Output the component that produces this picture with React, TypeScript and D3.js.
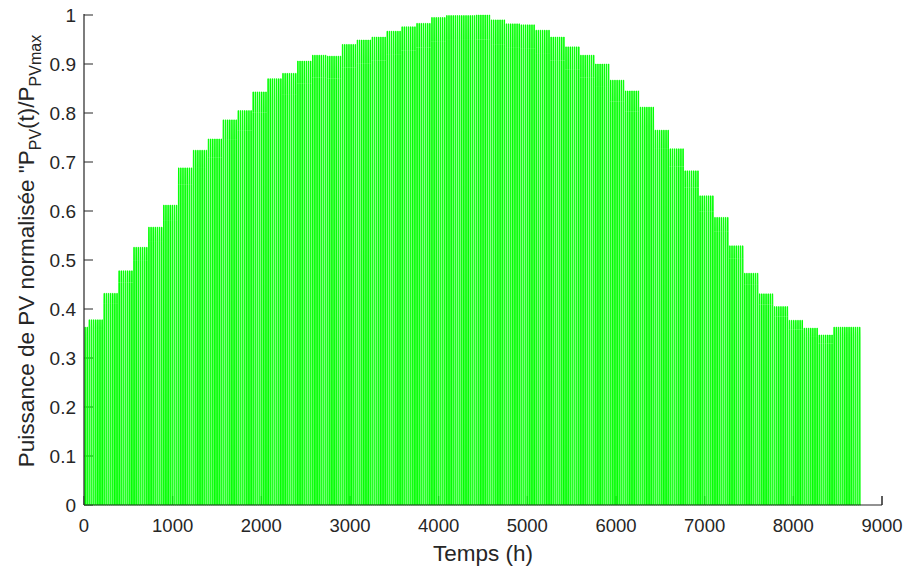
import React from "react";
import * as d3 from "d3";

// Weekly peak of normalised PV power (first step = 2 days, then 7-day steps)
const weeklyPeaks: number[] = [
  0.363, 0.378, 0.432, 0.478, 0.526, 0.567, 0.612, 0.688, 0.724, 0.747,
  0.786, 0.805, 0.843, 0.870, 0.881, 0.906, 0.918, 0.916, 0.940, 0.949,
  0.955, 0.967, 0.976, 0.983, 0.995, 0.999, 0.999, 1.000, 0.990, 0.982,
  0.980, 0.969, 0.955, 0.935, 0.918, 0.900, 0.867, 0.845, 0.812, 0.765,
  0.727, 0.682, 0.631, 0.587, 0.529, 0.473, 0.431, 0.405, 0.377, 0.361,
  0.347, 0.363, 0.363,
];
const firstStepDays = 2;
const daysPerStep = 7;
const nDays = 365;

// Normalised daily profile (hour 0..23)
const dailyProfile: number[] = [
  0, 0, 0, 0, 0, 0, 0, 0, 0, 0.95, 1, 1,
  1, 1, 1, 1, 0.95, 0, 0, 0, 0, 0, 0, 0,
];

const xTicks: number[] = [0, 1000, 2000, 3000, 4000, 5000, 6000, 7000, 8000, 9000];
const yTicks: number[] = [0, 0.1, 0.2, 0.3, 0.4, 0.5, 0.6, 0.7, 0.8, 0.9, 1];

const W = 907;
const H = 572;
const left = 84;
const right = 882;
const top = 15;
const bottom = 505;
const axisColor = "#262626";
const font = "'Liberation Sans', Arial, Helvetica, sans-serif";

export default function App() {
  const x = d3.scaleLinear().domain([0, 9000]).range([left, right]);
  const y = d3.scaleLinear().domain([0, 1]).range([bottom, top]);

  const series: [number, number][] = [];
  for (let d = 0; d < nDays; d++) {
    const step =
      d < firstStepDays
        ? 0
        : Math.min(weeklyPeaks.length - 1, 1 + Math.floor((d - firstStepDays) / daysPerStep));
    const peak = weeklyPeaks[step];
    for (let h = 0; h < 24; h++) {
      series.push([d * 24 + h, peak * dailyProfile[h]]);
    }
  }
  const line = d3
    .line<[number, number]>()
    .x((p) => x(p[0]))
    .y((p) => y(p[1]));
  const pathD = line(series) || "";

  const tickLen = 9;

  return (
    <svg
      width={W}
      height={H}
      style={{ position: "absolute", left: 0, top: 0, background: "#fff" }}
      fontFamily={font}
    >
      <rect x={0} y={0} width={W} height={H} fill="#fff" />
      {/* ticks (beneath data) */}
      {yTicks.map((t) => (
        <line key={"yt" + t} x1={left} x2={left + tickLen} y1={y(t)} y2={y(t)} stroke={axisColor} strokeWidth={1} />
      ))}
      {xTicks.map((t) => (
        <line key={"xt" + t} x1={x(t)} x2={x(t)} y1={bottom} y2={bottom - tickLen} stroke={axisColor} strokeWidth={1} />
      ))}
      <path d={pathD} fill="none" stroke="#00ff00" strokeWidth={1} />
      {/* axis lines */}
      <line x1={left} x2={left} y1={top - 1} y2={bottom} stroke={axisColor} strokeWidth={1.2} />
      <line x1={left} x2={right} y1={bottom} y2={bottom} stroke={axisColor} strokeWidth={1.2} />
      <line x1={x(9000)} x2={x(9000)} y1={bottom} y2={bottom - tickLen} stroke={axisColor} strokeWidth={1} />
      {/* tick labels */}
      {yTicks.map((t) => (
        <text key={"yl" + t} x={76} y={y(t)} dy="0.35em" textAnchor="end" fontSize={19} fill={axisColor}>
          {String(Math.round(t * 10) / 10)}
        </text>
      ))}
      {xTicks.map((t) => (
        <text key={"xl" + t} x={x(t)} y={532} textAnchor="middle" fontSize={18.5} fill={axisColor}>
          {String(t)}
        </text>
      ))}
      {/* axis titles */}
      <text x={x(4500)} y={561} textAnchor="middle" fontSize={22.5} fill={axisColor}>
        Temps (h)
      </text>
      <text
        transform={`translate(34,251) rotate(-90)`}
        textAnchor="middle"
        fontSize={22.5}
        fill={axisColor}
      >
        Puissance de PV normalisée "P
        <tspan fontSize={16} dy={7}>PV</tspan>
        <tspan dy={-7}>(t)/P</tspan>
        <tspan fontSize={16} dy={7}>PVmax</tspan>
      </text>
    </svg>
  );
}
